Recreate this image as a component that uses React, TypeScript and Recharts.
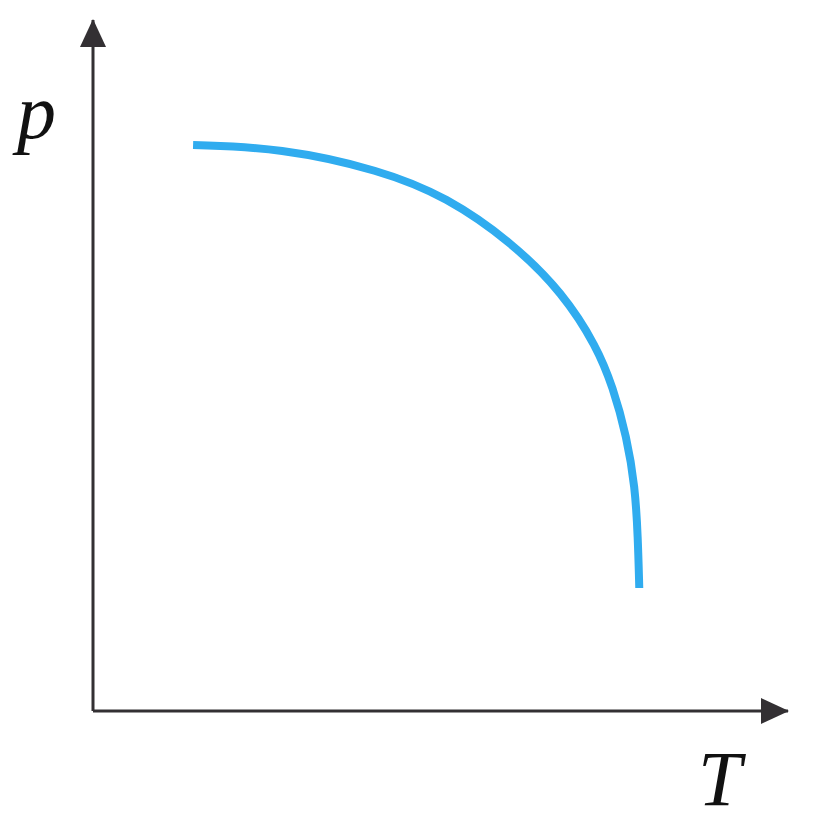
import { Line, LineChart, XAxis, YAxis } from "recharts";

// temperature (T) and pressure (p), axes run 0..100
const temps = [14.4, 26.9, 41.3, 50.9, 60.4, 67.6, 72.5, 74.8, 76.8, 78.0, 78.4, 78.6];
const pressures = [81.9, 81.5, 78.3, 74.4, 67.7, 60.5, 52.7, 46.9, 39.7, 32.4, 25.2, 17.8];

const axisLabels = { x: "T", y: "p" };

const curve = temps.map((t, i) => ({ t, p: pressures[i] }));

const AXIS_COLOR = "#333033";
const CURVE_COLOR = "#30acef";
const labelFont = { fontFamily: "'Liberation Serif', 'Times New Roman', serif", fontStyle: "italic" as const };

export default function App() {
    return (
        <div style={{ position: "absolute", left: 0, top: 0, background: "#fff" }}>
            <LineChart width={816} height={824} data={curve} margin={{ top: 20, right: 28, bottom: 112, left: 92 }}>
                <defs>
                    <marker
                        id="arrow"
                        viewBox="0 0 28 26"
                        refX="27"
                        refY="13"
                        markerWidth="28"
                        markerHeight="26"
                        markerUnits="userSpaceOnUse"
                        orient="auto-start-reverse"
                    >
                        <path d="M0,0 L28,13 L0,26 Z" fill={AXIS_COLOR} />
                    </marker>
                </defs>
                <XAxis
                    type="number"
                    dataKey="t"
                    domain={[0, 100]}
                    height={1}
                    tick={false}
                    tickLine={false}
                    axisLine={{ stroke: AXIS_COLOR, strokeWidth: 3, markerEnd: "url(#arrow)" }}
                />
                <YAxis
                    type="number"
                    dataKey="p"
                    domain={[0, 100]}
                    width={1}
                    tick={false}
                    tickLine={false}
                    axisLine={{ stroke: AXIS_COLOR, strokeWidth: 3, markerStart: "url(#arrow)" }}
                />
                <Line
                    type="basis"
                    dataKey="p"
                    stroke={CURVE_COLOR}
                    strokeWidth={8}
                    dot={false}
                    isAnimationActive={false}
                />
                <text x={17} y={138} fontSize={78} fill="#111" style={labelFont}>
                    {axisLabels.y}
                </text>
                <text x={698} y={805} fontSize={78} fill="#111" style={labelFont}>
                    {axisLabels.x}
                </text>
            </LineChart>
        </div>
    );
}
